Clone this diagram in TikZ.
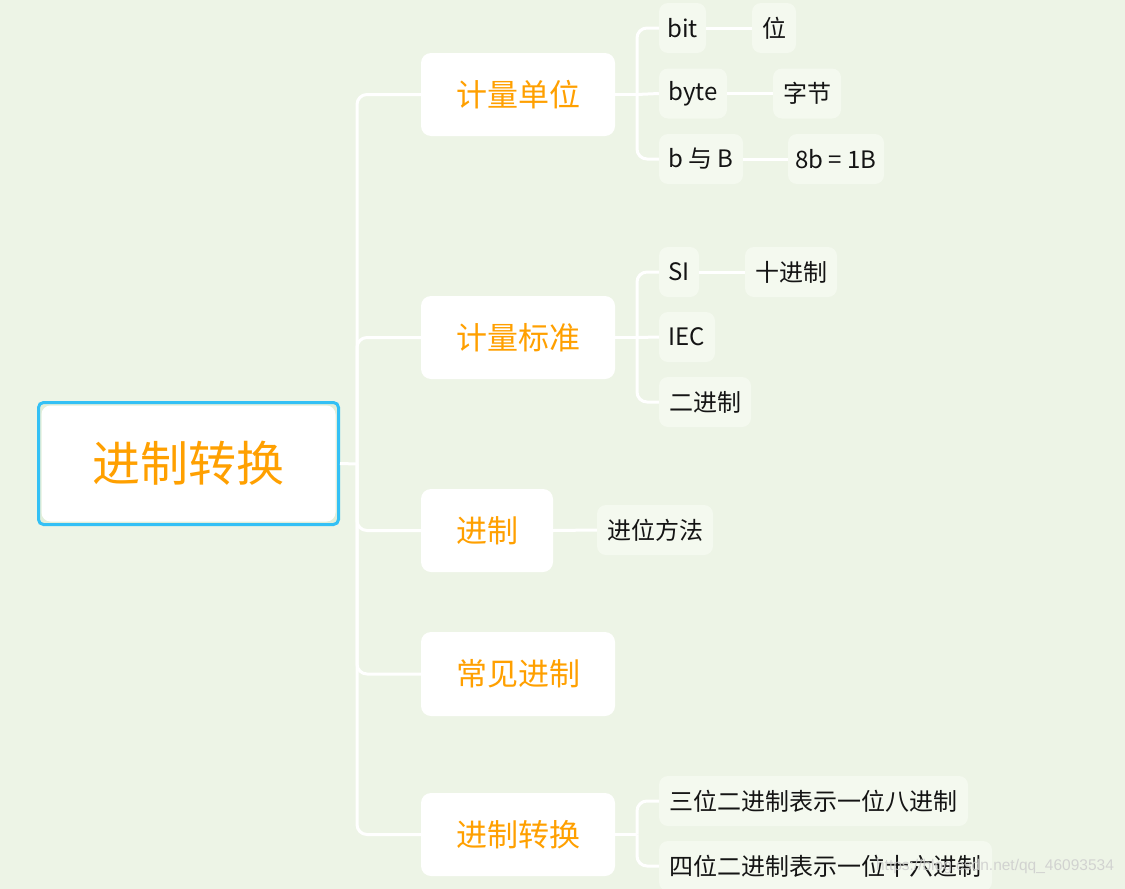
\documentclass[tikz,border=0pt]{standalone}
\usepackage{fontspec}
\setmainfont{Noto Sans CJK SC}
\newfontfamily\wmfont{Liberation Sans}
\definecolor{bgc}{RGB}{237,244,230}
\definecolor{leafc}{RGB}{244,249,239}
\definecolor{gapc}{RGB}{226,238,218}
\definecolor{rootblue}{RGB}{51,192,245}
\definecolor{orangec}{RGB}{255,160,0}
\definecolor{leaftext}{RGB}{20,20,20}
\begin{document}
\begin{tikzpicture}[x=1pt,y=-1pt,
  rootbox/.style={draw=rootblue, line width=3pt, rounded corners=5pt, fill=gapc,
    minimum width=300pt, minimum height=122pt, inner sep=0pt, text=orangec,
    font=\fontsize{48}{56}\selectfont,
    path picture={\fill[white, rounded corners=9pt]
      ([shift={(3pt,3pt)}]path picture bounding box.south west) rectangle
      ([shift={(-3pt,-3pt)}]path picture bounding box.north east);}},
  branch/.style={fill=white, rounded corners=10pt, text=orangec,
    font=\fontsize{31}{36}\selectfont, inner sep=0pt, minimum height=83pt},
  leaf/.style={fill=leafc, rounded corners=9pt, text=leaftext,
    font=\fontsize{24}{28}\selectfont, inner sep=0pt, minimum height=50pt},
  conn/.style={draw=white, line width=3pt},
  rconn/.style={conn, rounded corners=10pt}]
\fill[bgc] (0,0) rectangle (1125,889);
\useasboundingbox (0,0) rectangle (1125,889);

% root
\node[rootbox] (root) at (188.5,463.5) {进制转换};

% branches
\node[branch, minimum width=194pt] (b1) at (518,94.5) {计量单位};
\node[branch, minimum width=194pt] (b2) at (518,337.5) {计量标准};
\node[branch, minimum width=132pt] (b3) at (487,530.5) {进制};
\node[branch, minimum width=194pt, minimum height=84pt] (b4) at (518,674) {常见进制};
\node[branch, minimum width=194pt] (b5) at (518,834.5) {进制转换};

% leaves
\node[leaf, minimum width=47pt] (bit) at (682.5,28) {bit};
\node[leaf, minimum width=44pt] (wei) at (774,28) {位};
\node[leaf, minimum width=68pt] (byte) at (693,93.5) {byte};
\node[leaf, minimum width=68pt] (zijie) at (807,93.5) {字节};
\node[leaf, minimum width=84pt] (bB) at (701,159) {b 与 B};
\node[leaf, minimum width=96pt] (eq) at (836,159) {8b = 1B};
\node[leaf, minimum width=40pt] (SI) at (679,272) {SI};
\node[leaf, minimum width=92pt] (shi) at (791,272) {十进制};
\node[leaf, minimum width=56pt] (IEC) at (687,337) {IEC};
\node[leaf, minimum width=92pt] (er) at (705,402) {二进制};
\node[leaf, minimum width=116pt] (jinwei) at (655,530) {进位方法};
\node[leaf, minimum width=309pt] (san) at (813.5,801) {三位二进制表示一位八进制};
\node[leaf, minimum width=333pt] (si) at (825.5,866) {四位二进制表示一位十六进制};

% main trunk
\coordinate (tr) at (357,464);
\draw[conn] (root.east) -- (tr);
\foreach \b in {b1,b2,b3,b4,b5} {\draw[rconn] (tr) |- (\b.west);}

% group 1
\coordinate (s1) at (637,94.5);
\draw[conn] (b1.east) -- (s1);
\draw[rconn] (s1) |- (bit.west);
\draw[conn] (s1) -- (byte.west);
\draw[rconn] (s1) |- (bB.west);
\draw[conn] (bit.east) -- (wei.west);
\draw[conn] (byte.east) -- (zijie.west);
\draw[conn] (bB.east) -- (eq.west);

% group 2
\coordinate (s2) at (637,337.5);
\draw[conn] (b2.east) -- (s2);
\draw[rconn] (s2) |- (SI.west);
\draw[conn] (s2) -- (IEC.west);
\draw[rconn] (s2) |- (er.west);
\draw[conn] (SI.east) -- (shi.west);

% group 3
\draw[conn] (b3.east) -- (jinwei.west);

% group 5
\coordinate (s5) at (637,834.5);
\draw[conn] (b5.east) -- (s5);
\draw[rconn] (s5) |- (san.west);
\draw[rconn] (s5) |- (si.west);

% watermark
\node[text={rgb,255:red,205;green,205;blue,205}, opacity=0.85, font=\wmfont\fontsize{15.5}{18}\selectfont, inner sep=0pt] (wm) at (995,866) {https://blog.csdn.net/qq\_46093534};
\end{tikzpicture}
\end{document}
